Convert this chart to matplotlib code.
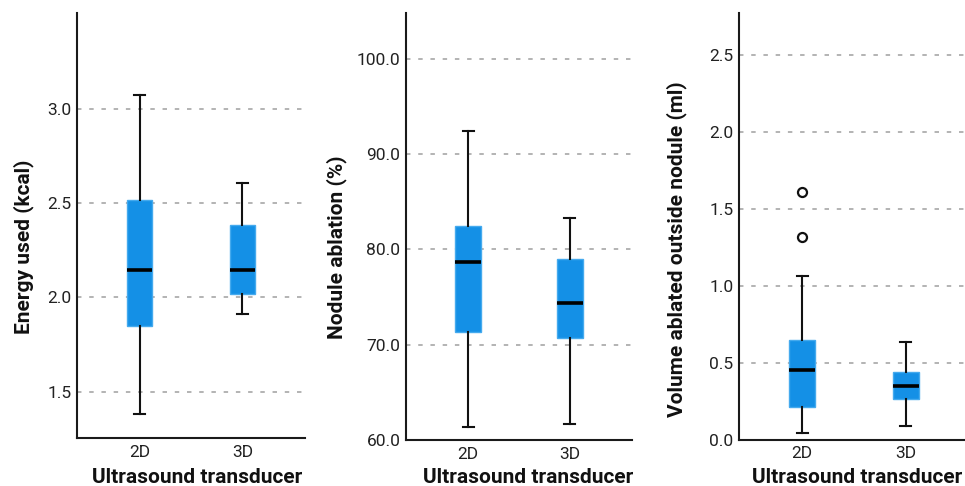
import matplotlib
matplotlib.use("Agg")
import matplotlib.pyplot as plt

plt.rcParams['font.family'] = ['Roboto', 'DejaVu Sans']
plt.rcParams['lines.scale_dashes'] = False

groups = ['2D', '3D']
xlabel = 'Ultrasound transducer'

# energy used (kcal): whislo, q1, median, q3, whishi
energy = [[1.38, 1.846, 2.146, 2.516, 3.076],
          [1.912, 2.016, 2.146, 2.387, 2.608]]
energy_fliers = [[], []]

# nodule ablation (%)
ablation = [[61.4, 71.3, 78.7, 82.5, 92.4],
            [61.7, 70.7, 74.4, 79.0, 83.3]]
ablation_fliers = [[], []]

# volume ablated outside nodule (ml)
volume = [[0.043, 0.21, 0.453, 0.646, 1.06],
          [0.087, 0.262, 0.348, 0.437, 0.63]]
volume_fliers = [[1.61, 1.317], []]

W, H = 965, 486
fig = plt.figure(figsize=(W / 100, H / 100), dpi=100)

# pixel boxes: left, right, top, bottom
panels = [
    dict(px=(77, 305, 13, 438), data=energy, fl=energy_fliers, ylim=(1.254, 3.51),
         ticks=[1.5, 2.0, 2.5, 3.0], ylabel='Energy used (kcal)',
         ylab=(-0.187, 0.45), xlab=0.526),
    dict(px=(406, 632, 13, 440), data=ablation, fl=ablation_fliers, ylim=(60, 104.8),
         ticks=[60, 70, 80, 90, 100], ylabel='Nodule ablation (%)',
         ylab=(-0.262, 0.451), xlab=0.54),
    dict(px=(739, 969, 13, 439.5), data=volume, fl=volume_fliers, ylim=(0, 2.77),
         ticks=[0.0, 0.5, 1.0, 1.5, 2.0, 2.5], ylabel='Volume ablated outside nodule (ml)',
         ylab=(-0.224, 0.447), xlab=0.513),
]

for p in panels:
    l, r, t, b = p['px']
    ax = fig.add_axes([l / W, 1 - b / H, (r - l) / W, (b - t) / H])
    stats = []
    for g, v, f in zip(groups, p['data'], p['fl']):
        stats.append(dict(label=g, whislo=v[0], q1=v[1], med=v[2], q3=v[3], whishi=v[4], fliers=f))
    ax.bxp(stats, positions=[0, 1], widths=0.25, capwidths=0.107, patch_artist=True,
           boxprops=dict(facecolor='#1490e6', edgecolor='#45aaee', linewidth=1),
           medianprops=dict(color='black', linewidth=2.6, solid_capstyle='butt'),
           whiskerprops=dict(color='#111111', linewidth=1.5),
           capprops=dict(color='#111111', linewidth=1.5),
           flierprops=dict(marker='o', markersize=6.5, markerfacecolor='none',
                           markeredgecolor='#111111', markeredgewidth=1.6))
    ax.set_xlim(-0.61, 1.61)
    ax.set_ylim(*p['ylim'])
    ax.set_yticks(p['ticks'])
    ax.set_yticklabels(['%.1f' % v for v in p['ticks']])
    ax.set_axisbelow(True)
    ax.yaxis.grid(True, color='#b3b3b3', linewidth=1.4, linestyle=(0, (3.2, 5.6)))
    ax.xaxis.grid(False)
    for s in ['top', 'right']:
        ax.spines[s].set_visible(False)
    for s in ['left', 'bottom']:
        ax.spines[s].set_linewidth(1.5)
        ax.spines[s].set_color('#1a1a1a')
    ax.tick_params(axis='both', length=0, labelsize=12.5, colors='#222222')
    ax.tick_params(axis='x', pad=5)
    ax.tick_params(axis='y', pad=4)
    ax.set_ylabel(p['ylabel'], fontsize=15, fontweight='bold', color='#111111')
    ax.yaxis.set_label_coords(*p['ylab'])
    ax.set_xlabel(xlabel, fontsize=15, fontweight='bold', color='#111111')
    ax.xaxis.label.set_va('baseline')
    ax.xaxis.set_label_coords(p['xlab'], -(H - 3 - b) / (b - t))

fig.savefig('out.png', dpi=100)
